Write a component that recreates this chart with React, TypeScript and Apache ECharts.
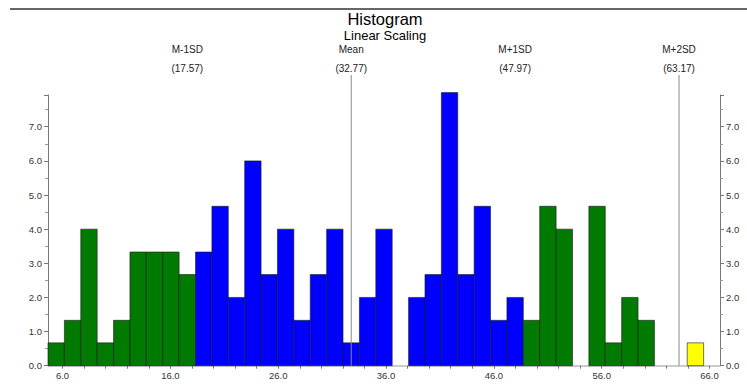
import React, { useEffect, useRef } from "react";
import * as echarts from "echarts";

// Histogram bins (bin width = SD/10, bins centred on the mean)
const BIN_START = 4.65;
const BIN_WIDTH = 1.52;
const binHeights = [
  0.67, 1.33, 4.0, 0.67, 1.33, 3.33, 3.33, 3.33, 2.67, 3.33,
  4.67, 2.0, 6.0, 2.67, 4.0, 1.33, 2.67, 4.0, 0.67, 2.0,
  4.0, 0, 2.0, 2.67, 8.0, 2.67, 4.67, 1.33, 2.0, 1.33,
  4.67, 4.0, 0, 4.67, 0.67, 2.0, 1.33, 0, 0, 0.67, 0,
];
// zone of each bin: 0 = outside ±1SD (green), 1 = within ±1SD (blue), 2 = beyond +2SD (yellow)
const binZones = [
  0, 0, 0, 0, 0, 0, 0, 0, 0, 1,
  1, 1, 1, 1, 1, 1, 1, 1, 1, 1,
  1, 1, 1, 1, 1, 1, 1, 1, 1, 0,
  0, 0, 0, 0, 0, 0, 0, 0, 0, 2, 2,
];
const zoneColors = ["#007a00", "#0000ff", "#ffff00"];

const markerNames = ["M-1SD", "Mean", "M+1SD", "M+2SD"];
const markerValues = [17.57, 32.77, 47.97, 63.17];
const markerHasLine = [false, true, false, true];

const xTickLabels = [6, 16, 26, 36, 46, 56, 66];
const xMinorTicks = [8, 10, 12, 14, 18, 20, 22, 24, 28, 30, 32, 34, 38, 40, 42, 44, 48, 50, 52, 54, 58, 60, 62, 64];

const X_MIN = 4.65;
const X_MAX = 66.97;
const Y_MAX = 7.93;

const FONT = "'Liberation Sans', Arial, sans-serif";

export default function App() {
  const ref = useRef<HTMLDivElement>(null);
  useEffect(() => {
    if (!ref.current) return;
    const chart = echarts.init(ref.current, undefined, { renderer: "svg" });
    const data = binHeights.map((h, i) => [
      BIN_START + i * BIN_WIDTH,
      BIN_START + (i + 1) * BIN_WIDTH,
      h,
      binZones[i],
    ]);
    const yAxisCommon = {
      type: "value",
      min: 0,
      max: Y_MAX,
      interval: 1,
      splitLine: { show: false },
      axisLine: { show: true, lineStyle: { color: "#777", width: 1 } },
      axisTick: { show: true, length: 4, lineStyle: { color: "#777" } },
      minorTick: { show: true, splitNumber: 2, length: 3, lineStyle: { color: "#999" } },
      axisLabel: {
        fontSize: 9.5,
        fontFamily: FONT,
        color: "#333",
        margin: 6,
        formatter: (v: number) => (Math.abs(v - Math.round(v)) < 1e-6 ? v.toFixed(1) : ""),
      },
    };
    chart.setOption({
      animation: false,
      grid: { left: 48, right: 27, top: 95, bottom: 19.3, containLabel: false },
      xAxis: {
        type: "value",
        min: X_MIN,
        max: X_MAX,
        splitLine: { show: false },
        axisLine: { show: true, onZero: false, lineStyle: { color: "#bbb", width: 1.5 } },
        axisTick: { show: true, length: 3, customValues: xMinorTicks.concat(xTickLabels), lineStyle: { color: "#777" } },
        axisLabel: {
          customValues: xTickLabels,
          formatter: (v: number) => v.toFixed(1),
          fontSize: 9.5,
          fontFamily: FONT,
          color: "#333",
          margin: 5,
        },
      },
      yAxis: [
        { ...yAxisCommon, position: "left" },
        { ...yAxisCommon, position: "right" },
      ],
      series: [
        {
          type: "custom",
          clip: false,
          encode: { x: [0, 1], y: 2 },
          data,
          renderItem: (params: any, api: any) => {
            const h = api.value(2);
            if (!h) return null;
            const p0 = api.coord([api.value(0), 0]);
            const p1 = api.coord([api.value(1), h]);
            return {
              type: "rect",
              shape: { x: p0[0], y: p1[1], width: p1[0] - p0[0], height: p0[1] - p1[1] },
              style: { fill: zoneColors[api.value(3)], stroke: "#1a1a1a", lineWidth: 0.6 },
            };
          },
        },
      ],
    });

    const graphic: any[] = [
      { type: "line", shape: { x1: 10, y1: 9, x2: 747, y2: 9 }, style: { stroke: "#333", lineWidth: 1.5 } },
      {
        type: "text",
        x: 385,
        y: 19,
        style: { text: "Histogram", fontSize: 16.5, fontFamily: FONT, fill: "#000", textAlign: "center", textVerticalAlign: "middle" },
      },
      {
        type: "text",
        x: 385,
        y: 35.5,
        style: { text: "Linear Scaling", fontSize: 13, fontFamily: FONT, fill: "#000", textAlign: "center", textVerticalAlign: "middle" },
      },
    ];
    const baseY = chart.convertToPixel({ yAxisIndex: 0 }, 0) as number;
    markerValues.forEach((v, i) => {
      const px = chart.convertToPixel({ xAxisIndex: 0 }, v) as number;
      graphic.push({
        type: "text",
        x: px,
        y: 49.5,
        style: { text: markerNames[i], fontSize: 10, fontFamily: FONT, fill: "#222", textAlign: "center", textVerticalAlign: "middle" },
      });
      graphic.push({
        type: "text",
        x: px,
        y: 68.5,
        style: { text: "(" + v.toFixed(2) + ")", fontSize: 10, fontFamily: FONT, fill: "#222", textAlign: "center", textVerticalAlign: "middle" },
      });
      if (markerHasLine[i]) {
        graphic.push({
          type: "line",
          z: 10,
          shape: { x1: px, y1: 75, x2: px, y2: baseY },
          style: { stroke: "#8a8a8a", lineWidth: 1 },
        });
      }
    });
    chart.setOption({ graphic });
    return () => chart.dispose();
  }, []);
  return <div ref={ref} style={{ position: "fixed", left: 0, top: 0, width: 747, height: 385, background: "#fff" }} />;
}
